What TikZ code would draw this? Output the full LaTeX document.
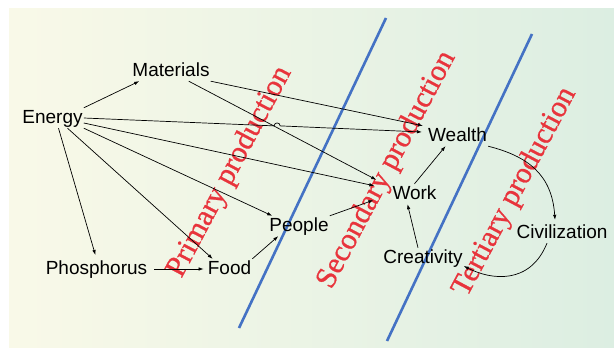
\documentclass[tikz,border=0pt]{standalone}
\usepackage{fontspec}
\setmainfont{Liberation Sans}
\newfontfamily\labelserif[FakeBold=0.8]{Liberation Serif}
\usepackage{xcolor}
\usetikzlibrary{arrows.meta,calc,positioning}

\definecolor{bgleft}{RGB}{249,249,232}
\definecolor{bgright}{RGB}{220,238,226}
\definecolor{divblue}{RGB}{68,114,196}
\definecolor{stagered}{RGB}{232,52,60}

\begin{document}
\begin{tikzpicture}[x=1pt,y=-1pt,
  item/.style={inner sep=1pt, text height=14pt, text depth=4pt, anchor=base,
    font=\fontsize{19}{22}\selectfont},
  link/.style={line width=0.7pt, -{Latex[length=5pt,width=3.5pt]}},
  divider/.style={divblue, line width=2.6pt},
  stage/.style={stagered, rotate=62, inner sep=0pt,
    font=\labelserif\fontsize{30}{34}\selectfont}]

  % background
  \useasboundingbox (0,0) rectangle (614,348);
  \fill[white] (0,0) rectangle (614,348);
  \shade[left color=bgleft, right color=bgright] (9,8) rectangle (614,347);

  % dividers between the stages
  \draw[divider] (386,18) -- (239,328);
  \draw[divider] (532,34) -- (387,341);

  % stage labels
  \node[stage] (primary) at (230,172) {Primary production};
  \node[stage] (secondary) at (387,170) {Secondary production};
  \node[stage] (tertiary) at (515,192) {Tertiary production};

  % items
  \node[item] (materials) at (171,76) {Materials};
  \node[item] (energy) at (52.5,123) {Energy};
  \node[item] (phosphorus) at (96.5,274) {Phosphorus};
  \node[item] (food) at (229.5,274) {Food};
  \node[item] (people) at (299,231) {People};
  \node[item] (wealth) at (457.5,141) {Wealth};
  \node[item] (work) at (414.5,199) {Work};
  \node[item] (creativity) at (423,263) {Creativity};
  \node[item] (civilization) at (562,238) {Civilization};

  % links out of energy
  \draw[link] (energy.north east) -- ([xshift=8pt]materials.south west);
  \draw[link, shorten >=4pt] ([xshift=6pt]energy.south) -- (phosphorus.north);
  \draw[link] ([xshift=15pt]energy.south) -- ([xshift=6pt]food.north west);
  \draw[link] (energy.south east) -- ([xshift=4pt]people.north west);
  \draw[link] ([yshift=-5pt]energy.east) -- ([xshift=-17pt,yshift=-2pt]work.north west);
  % energy to wealth, hopping over materials to work
  \coordinate (ewstart) at (energy.east);
  \coordinate (ewend) at ([xshift=-5pt,yshift=4pt]wealth.west);
  \coordinate (hop) at ($(ewstart)!0.563!(ewend)$);
  \draw[link] (ewstart) -- (hop) arc[start angle=180, end angle=0, radius=3pt] -- (ewend);

  % links out of materials
  \draw[link] (materials.south east) -- ([xshift=-4pt]wealth.north west);
  \draw[link] ([xshift=-22pt]materials.south east) -- ([xshift=-15pt,yshift=4pt]work.north west);

  % the rest of the chain
  \draw[link, shorten <=6pt, shorten >=3pt] (phosphorus) -- (food);
  \draw[link] (food.north east) -- ([xshift=10pt]people.south west);
  \draw[link] (people.north east) -- ([xshift=-18pt,yshift=4pt]work.south west);
  \draw[link] (work.north) -- ([xshift=-12pt]wealth.south);
  \draw[link] ([xshift=-5pt]creativity.north) -- ([xshift=-7pt]work.south);
  \draw[link] (wealth.south east) .. controls +(40,10) and +(-3,-45) .. ([xshift=-7pt,yshift=3pt]civilization.north);
  \draw[link] ([xshift=-15pt]civilization.south) .. controls +(-17,42) and +(27,14) .. ([yshift=-8pt]creativity.east);
\end{tikzpicture}
\end{document}
